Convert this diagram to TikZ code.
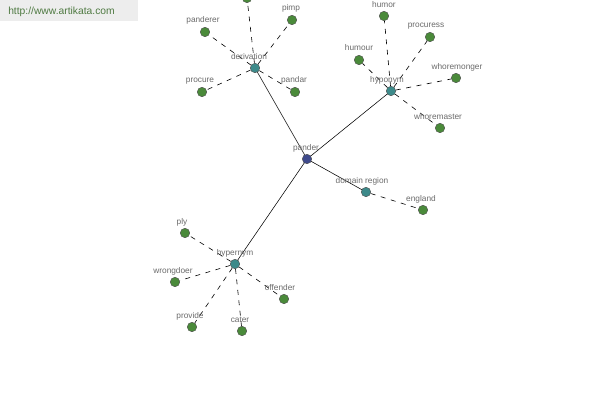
\documentclass[tikz,border=0pt]{standalone}
\usepackage{fontspec}
\setmainfont{Liberation Sans}
\usetikzlibrary{backgrounds}
\begin{document}
\begin{tikzpicture}[x=1pt,y=-1pt,
  dot/.style={circle,draw=black!70,line width=0.4pt,inner sep=0pt,minimum size=9.5pt},
  root/.style={dot,fill=rootc},
  mid/.style={dot,fill=midc},
  leaf/.style={dot,fill=leafc},
  lbl/.style={font=\fontsize{8.3}{9}\selectfont,text=black!58,inner sep=0pt},
  solidedge/.style={draw=black,line width=0.55pt},
  dashedge/.style={draw=black,line width=0.6pt,dash pattern=on 5pt off 5.5pt}]
\definecolor{rootc}{HTML}{3F4A8C}
\definecolor{midc}{HTML}{3D8A8A}
\definecolor{leafc}{HTML}{4A8A3A}
\definecolor{hdrc}{HTML}{4F7A42}
\useasboundingbox (0,0) rectangle (600,400);
% nodes
\node[root] (pander) at (307,159) {};
\node[mid] (deriv) at (255,68) {};
\node[mid] (hypo) at (391,91) {};
\node[mid] (dom) at (366,192) {};
\node[mid] (hyper) at (235,264) {};
\node[leaf] (top) at (247,-2) {};
\node[leaf] (pimp) at (292,20) {};
\node[leaf] (panderer) at (205,32) {};
\node[leaf] (procure) at (202,92) {};
\node[leaf] (pandar) at (295,92) {};
\node[leaf] (humor) at (384,16) {};
\node[leaf] (procuress) at (430,37) {};
\node[leaf] (humour) at (359,60) {};
\node[leaf] (whoremonger) at (456,78) {};
\node[leaf] (whoremaster) at (440,128) {};
\node[leaf] (england) at (423,210) {};
\node[leaf] (ply) at (185,233) {};
\node[leaf] (wrongdoer) at (175,282) {};
\node[leaf] (offender) at (284,299) {};
\node[leaf] (provide) at (192,327) {};
\node[leaf] (cater) at (242,331) {};
% edges and background
\begin{pgfonlayer}{background}
\fill[white] (0,0) rectangle (600,400);
\fill[black!7] (0,0) rectangle (138,21);
\path[solidedge] (pander.center) -- (deriv.center);
\path[solidedge] (pander.center) -- (hypo.center);
\path[solidedge] (pander.center) -- (dom.center);
\path[solidedge] (pander.center) -- (hyper.center);
\foreach \l in {top,pimp,panderer,procure,pandar} \path[dashedge] (deriv) -- (\l);
\foreach \l in {humor,procuress,humour,whoremonger,whoremaster} \path[dashedge] (hypo) -- (\l);
\path[dashedge] (dom) -- (england);
\foreach \l in {ply,wrongdoer,offender,provide,cater} \path[dashedge] (hyper) -- (\l);
\end{pgfonlayer}
\node[font=\fontsize{10.3}{12}\selectfont,text=hdrc,inner sep=0pt] (hdr) at (61.5,11.5) {http://www.artikata.com};
% labels
\node[lbl] (l1) at (306,148) {pander};
\node[lbl] (l2) at (249,57) {derivation};
\node[lbl] (l3) at (387,80) {hyponym};
\node[lbl] (l4) at (362,181) {domain region};
\node[lbl] (l5) at (235,253) {hypernym};
\node[lbl] (l6) at (291,8) {pimp};
\node[lbl] (l7) at (203,20) {panderer};
\node[lbl] (l8) at (200,81) {procure};
\node[lbl] (l9) at (294,80) {pandar};
\node[lbl] (l10) at (384,5) {humor};
\node[lbl] (l11) at (426,26) {procuress};
\node[lbl] (l12) at (359,48) {humour};
\node[lbl] (l13) at (457,67) {whoremonger};
\node[lbl] (l14) at (438,117) {whoremaster};
\node[lbl] (l15) at (421,199) {england};
\node[lbl] (l16) at (182,222) {ply};
\node[lbl] (l17) at (173,271) {wrongdoer};
\node[lbl] (l18) at (280,288) {offender};
\node[lbl] (l19) at (190,316) {provide};
\node[lbl] (l20) at (240,320) {cater};
\end{tikzpicture}
\end{document}
